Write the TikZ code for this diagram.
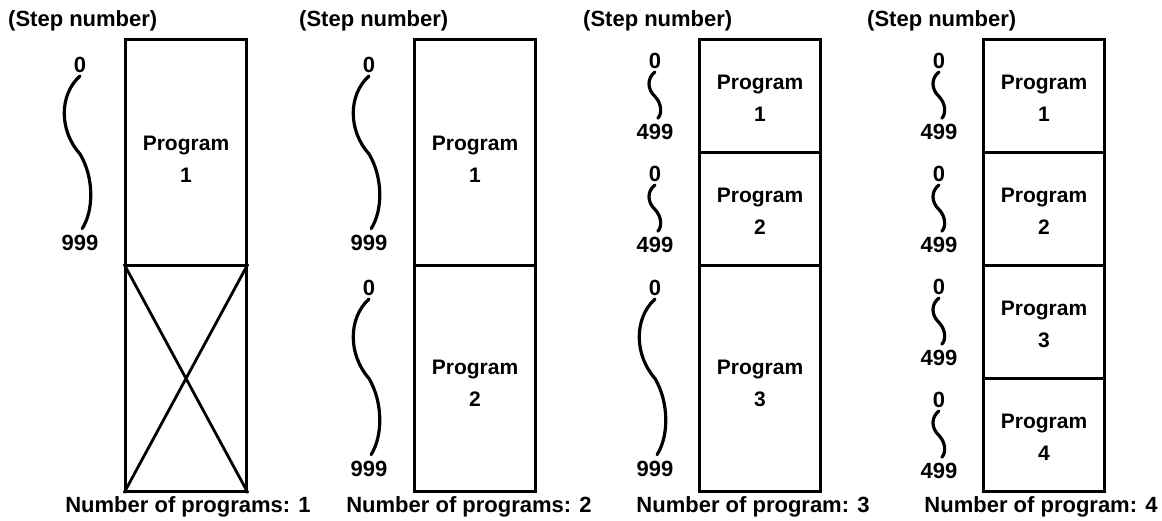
\documentclass[tikz,border=0pt]{standalone}
\usepackage{fontspec}
\setmainfont{Liberation Sans}
\usetikzlibrary{calc}
\tikzset{
  txt/.style={font=\bfseries\fontsize{22}{32}\selectfont, inner sep=0pt},
  caplabel/.style={font=\bfseries\fontsize{22}{26}\selectfont, inner sep=0pt},
  num/.style={txt, inner sep=3pt},
  prog/.style={align=center, font=\bfseries\fontsize{21}{32}\selectfont, inner sep=0pt},
  sect/.style={draw, line width=3pt, minimum width=121pt, inner sep=0pt, anchor=north west},
  wave/.style={line width=3.2pt, line cap=round, shorten >=4pt},
  cross/.style={line width=2.8pt},
}
\newcommand\wavy[4]{\draw[wave] (#1) .. controls ($(#1)!0.12!(#2)+(-#3,0)$) and ($(#1)!0.35!(#2)+(-#3,0)$) .. ($(#1)!0.5!(#2)$) .. controls ($(#1)!0.65!(#2)+(#4,0)$) and ($(#1)!0.86!(#2)+(#4,0)$) .. (#2);}
\begin{document}
\begin{tikzpicture}[x=1pt,y=1pt]
\useasboundingbox (0,0) rectangle (1162,-521);
% ---------- panel 1
\node[txt, anchor=west] (h1) at (8,-21) {(Step number)};
\node[sect, minimum height=226pt] (p1a) at (124,-38) {};
\node[sect, minimum height=226pt] (p1b) at (124,-264) {};
\node[prog] (t1a) at ($(p1a.center)+(0,-7)$) {Program\\1};
\draw[cross] (p1b.north west) -- (p1b.south east) (p1b.north east) -- (p1b.south west);
\node[num] (z11) at (80,-65) {0};
\node[num] (n11) at (80,-243) {999};
\wavy{z11.south}{n11.north}{21}{14}
\node[caplabel] (c1) at (188,-507) {Number of programs: 1};
% ---------- panel 2
\node[txt, anchor=west] (h2) at (299,-21) {(Step number)};
\node[sect, minimum height=226pt] (p2a) at (413,-38) {};
\node[sect, minimum height=226pt] (p2b) at (413,-264) {};
\node[prog] (t2a) at ($(p2a.center)+(0,-7)$) {Program\\1};
\node[prog] (t2b) at ($(p2b.center)+(0,-5)$) {Program\\2};
\node[num] (z21) at (369,-65) {0};
\node[num] (n21) at (369,-243) {999};
\wavy{z21.south}{n21.north}{21}{14}
\node[num] (z22) at (369,-288) {0};
\node[num] (n22) at (369,-469) {999};
\wavy{z22.south}{n22.north}{21}{14}
\node[caplabel] (c2) at (469,-507) {Number of programs: 2};
% ---------- panel 3
\node[txt, anchor=west] (h3) at (583,-21) {(Step number)};
\node[sect, minimum height=113pt] (p3a) at (698,-38) {};
\node[sect, minimum height=113pt] (p3b) at (698,-151) {};
\node[sect, minimum height=226pt] (p3c) at (698,-264) {};
\node[prog] (t3a) at ($(p3a.center)+(0,-2)$) {Program\\1};
\node[prog] (t3b) at ($(p3b.center)+(0,-2)$) {Program\\2};
\node[prog] (t3c) at ($(p3c.center)+(0,-5)$) {Program\\3};
\node[num] (z31) at (655,-61) {0};
\node[num] (n31) at (655,-132) {499};
\wavy{z31.south}{n31.north}{8}{7}
\node[num] (z32) at (655,-174) {0};
\node[num] (n32) at (655,-245) {499};
\wavy{z32.south}{n32.north}{8}{7}
\node[num] (z33) at (655,-288) {0};
\node[num] (n33) at (655,-469) {999};
\wavy{z33.south}{n33.north}{21}{14}
\node[caplabel] (c3) at (753,-507) {Number of program: 3};
% ---------- panel 4
\node[txt, anchor=west] (h4) at (867,-21) {(Step number)};
\node[sect, minimum height=113pt] (p4a) at (982,-38) {};
\node[sect, minimum height=113pt] (p4b) at (982,-151) {};
\node[sect, minimum height=113pt] (p4c) at (982,-264) {};
\node[sect, minimum height=113pt] (p4d) at (982,-377) {};
\node[prog] (t4a) at ($(p4a.center)+(0,-2)$) {Program\\1};
\node[prog] (t4b) at ($(p4b.center)+(0,-2)$) {Program\\2};
\node[prog] (t4c) at ($(p4c.center)+(0,-2)$) {Program\\3};
\node[prog] (t4d) at ($(p4d.center)+(0,-2)$) {Program\\4};
\node[num] (z41) at (939,-61) {0};
\node[num] (n41) at (939,-132) {499};
\wavy{z41.south}{n41.north}{8}{7}
\node[num] (z42) at (939,-174) {0};
\node[num] (n42) at (939,-245) {499};
\wavy{z42.south}{n42.north}{8}{7}
\node[num] (z43) at (939,-287) {0};
\node[num] (n43) at (939,-358) {499};
\wavy{z43.south}{n43.north}{8}{7}
\node[num] (z44) at (939,-400) {0};
\node[num] (n44) at (939,-471) {499};
\wavy{z44.south}{n44.north}{8}{7}
\node[caplabel] (c4) at (1041,-507) {Number of program: 4};
\end{tikzpicture}
\end{document}
